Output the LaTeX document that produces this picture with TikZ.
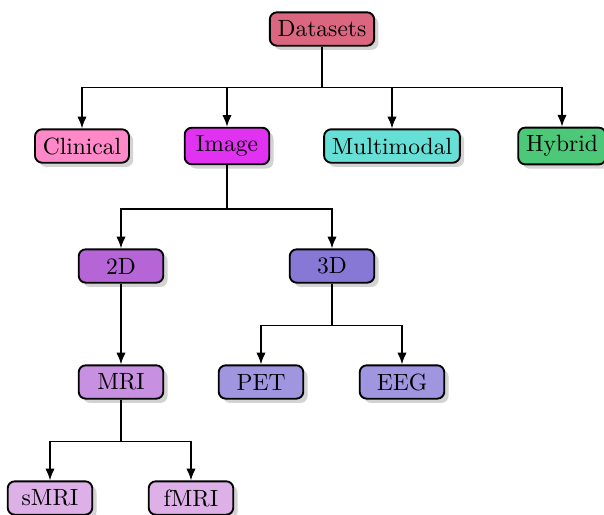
\documentclass[tikz,border=0pt]{standalone}
\usetikzlibrary{shadows,arrows.meta}
\definecolor{cDatasets}{RGB}{218,102,128}
\definecolor{cClinical}{RGB}{255,136,200}
\definecolor{cImage}{RGB}{224,50,240}
\definecolor{cMulti}{RGB}{102,224,214}
\definecolor{cHybrid}{RGB}{76,200,120}
\definecolor{cTwoD}{RGB}{181,101,214}
\definecolor{cThreeD}{RGB}{136,120,214}
\definecolor{cMRI}{RGB}{200,144,224}
\definecolor{cPET}{RGB}{160,150,224}
\definecolor{cSub}{RGB}{221,176,232}
\tikzset{
  box/.style={draw=black, thick, rounded corners=3pt, minimum width=36pt, minimum height=14.2pt, inner sep=3.33pt, drop shadow={shadow xshift=1.8pt, shadow yshift=-1.8pt, opacity=0.35}},
  arr/.style={-{Latex[length=5pt,width=4pt]}, line width=0.7pt}
}
\begin{document}
\begin{tikzpicture}[x=0.4255pt, y=-0.4255pt]
\useasboundingbox (0,0) rectangle (604,515);
\node[box, fill=cDatasets] (ds) at (322,29) {Datasets};
\node[box, fill=cClinical] (cl) at (82,146) {Clinical};
\node[box, fill=cImage] (im) at (227,146) {Image};
\node[box, fill=cMulti] (mm) at (392,146) {Multimodal};
\node[box, fill=cHybrid] (hy) at (562,146) {Hybrid};
\node[box, fill=cTwoD] (td) at (121,266) {2D};
\node[box, fill=cThreeD] (th) at (332,266) {3D};
\node[box, fill=cMRI] (mri) at (121,382) {MRI};
\node[box, fill=cPET] (pet) at (261,382) {PET};
\node[box, fill=cPET] (eeg) at (402,382) {EEG};
\node[box, fill=cSub] (smri) at (50,498) {sMRI};
\node[box, fill=cSub] (fmri) at (191,498) {fMRI};
\foreach \c in {cl,im,mm,hy} \draw[arr] (ds.south) -- ++(0,41) -| (\c.north);
\foreach \c in {td,th} \draw[arr] (im.south) -- ++(0,44) -| (\c.north);
\foreach \c in {pet,eeg} \draw[arr] (th.south) -- ++(0,42) -| (\c.north);
\draw[arr] (td.south) -- (mri.north);
\foreach \c in {smri,fmri} \draw[arr] (mri.south) -- ++(0,42) -| (\c.north);
\end{tikzpicture}
\end{document}
